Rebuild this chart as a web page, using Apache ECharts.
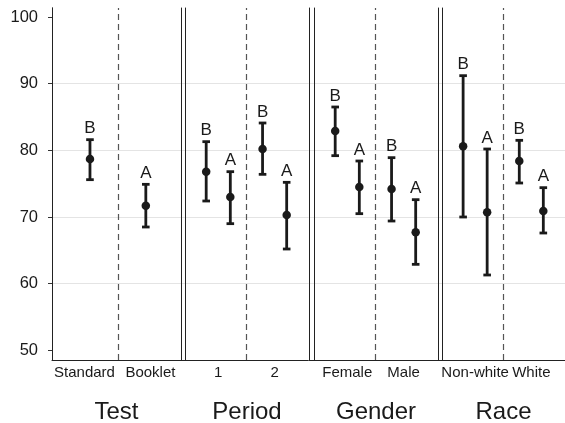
<!DOCTYPE html>
<html><head><meta charset="utf-8">
<script src="https://cdn.jsdelivr.net/npm/echarts@6/dist/echarts.min.js"></script>
<style>html,body{margin:0;padding:0;background:#fff}#c{width:565px;height:423px}</style>
</head><body><div id="c"></div><script>
// ---------- data ----------
const panelTitles = ['Test', 'Period', 'Gender', 'Race'];

const testCats = ['Standard', 'Booklet'];
const testMean = [78.7, 71.7];
const testLow = [75.6, 68.5];
const testHigh = [81.6, 74.9];
const testLetters = ['B', 'A'];

// order: level1-left, level1-right, level2-left, level2-right
const periodCats = ['1', '2'];
const periodMean = [76.8, 73.0, 80.2, 70.3];
const periodLow = [72.4, 69.0, 76.4, 65.2];
const periodHigh = [81.3, 76.8, 84.1, 75.2];
const periodLetters = ['B', 'A', 'B', 'A'];

const genderCats = ['Female', 'Male'];
const genderMean = [82.9, 74.5, 74.2, 67.7];
const genderLow = [79.2, 70.5, 69.4, 62.9];
const genderHigh = [86.5, 78.4, 78.9, 72.6];
const genderLetters = ['B', 'A', 'B', 'A'];

const raceCats = ['Non-white', 'White'];
const raceMean = [80.6, 70.7, 78.4, 70.9];
const raceLow = [70.0, 61.3, 75.1, 67.6];
const raceHigh = [91.2, 80.2, 81.5, 74.4];
const raceLetters = ['B', 'A', 'B', 'A'];

const yTicks = [50, 60, 70, 80, 90, 100];
const gridValues = [60, 70, 80, 90];

// ---------- layout ----------
const FONT = 'Liberation Sans, Arial, Helvetica, sans-serif';
const INK = '#1a1a1a';
const Y_MIN = 48.55, Y_MAX = 101.35;
const TOP = 8, BOTTOM = 63;
const DODGE = 0.214;

const panels = [
  { cats: testCats, mean: testMean, low: testLow, high: testHigh, letters: testLetters, single: true,
    left: 52, width: 129, xmin: 0.32, xmax: 2.63, labelPos: [0.902, 2.082] },
  { cats: periodCats, mean: periodMean, low: periodLow, high: periodHigh, letters: periodLetters,
    left: 185, width: 124, xmin: 0.41, xmax: 2.61, labelPos: [1, 2] },
  { cats: genderCats, mean: genderMean, low: genderLow, high: genderHigh, letters: genderLetters,
    left: 314, width: 124, xmin: 0.41, xmax: 2.61, labelPos: [1, 2] },
  { cats: raceCats, mean: raceMean, low: raceLow, high: raceHigh, letters: raceLetters,
    left: 442, width: 123, xmin: 0.41, xmax: 2.6, labelPos: [1, 2] }
];

function xPositions(p) {
  if (p.single) return p.cats.map((c, i) => i + 1);
  const xs = [];
  p.cats.forEach((c, i) => { xs.push(i + 1 - DODGE); xs.push(i + 1 + DODGE); });
  return xs;
}

const grid = [], xAxis = [], yAxis = [], series = [];

// background full-width grid first: y axis labels, gridlines, bottom axis line
grid.push({ left: 52, right: 0, top: TOP, bottom: BOTTOM, containLabel: false, outerBoundsMode: 'none' });
xAxis.push({
  gridIndex: 0, type: 'value', min: 0, max: 1, z: 0,
  axisLine: { show: true, lineStyle: { color: '#222', width: 1 } },
  axisTick: { show: false }, axisLabel: { show: false }, splitLine: { show: false }
});
yAxis.push({
  gridIndex: 0, type: 'value', min: Y_MIN, max: Y_MAX, position: 'left',
  axisLine: { show: true, lineStyle: { color: '#222', width: 1 } },
  axisTick: { show: true, customValues: yTicks, length: 4, lineStyle: { color: '#333' } },
  axisLabel: { customValues: yTicks, margin: 14, fontSize: 16.5, color: INK, fontFamily: FONT },
  splitLine: { show: false }
});
series.push({
  type: 'scatter', xAxisIndex: 0, yAxisIndex: 0, data: [], z: 0, zlevel: 0,
  markLine: {
    silent: true, symbol: 'none', label: { show: false }, z: 0,
    lineStyle: { color: '#e4e4e4', type: 'solid', width: 1 },
    data: gridValues.map(v => ({ yAxis: v }))
  }
});

panels.forEach((p, j) => {
  const i = j + 1;
  grid.push({ left: p.left, width: p.width, top: TOP, bottom: BOTTOM,
              containLabel: false, outerBoundsMode: 'none' });
  xAxis.push({
    gridIndex: i, type: 'value', min: p.xmin, max: p.xmax,
    axisLine: { show: false }, axisTick: { show: false }, splitLine: { show: false },
    axisLabel: {
      customValues: p.labelPos, margin: 5, fontSize: 15, color: INK, fontFamily: FONT,
      formatter: v => (v < 1.5 ? p.cats[0] : p.cats[1])
    },
    name: panelTitles[j], nameLocation: 'middle', nameGap: 40,
    nameTextStyle: { fontSize: 24, color: INK, fontFamily: FONT }
  });
  const yl = yAxis.length;
  ['left', 'right'].forEach(pos => {
    yAxis.push({
      gridIndex: i, type: 'value', min: Y_MIN, max: Y_MAX, position: pos,
      axisLine: { show: !(j === 3 && pos === 'right'), lineStyle: { color: '#222', width: 1 } },
      axisTick: { show: false }, axisLabel: { show: false }, splitLine: { show: false }
    });
  });
  const xs = xPositions(p);
  const barData = xs.map((x, k) => [x, p.low[k], p.high[k], p.letters[k]]);
  const ptData = xs.map((x, k) => [x, p.mean[k]]);
  series.push({
    type: 'custom', xAxisIndex: i, yAxisIndex: yl, z: 6,
    data: barData,
    renderItem: (params, api) => {
      const x = api.value(0);
      const lo = api.coord([x, api.value(1)]);
      const hi = api.coord([x, api.value(2)]);
      const cw = 3.8;
      const st = { stroke: INK, lineWidth: 2.8 };
      return {
        type: 'group', children: [
          { type: 'line', shape: { x1: lo[0], y1: lo[1], x2: hi[0], y2: hi[1] }, style: st },
          { type: 'line', shape: { x1: lo[0] - cw, y1: lo[1], x2: lo[0] + cw, y2: lo[1] }, style: st },
          { type: 'line', shape: { x1: hi[0] - cw, y1: hi[1], x2: hi[0] + cw, y2: hi[1] }, style: st },
          { type: 'text', style: { text: barData[params.dataIndex][3], x: hi[0], y: hi[1] - 11,
              align: 'center', verticalAlign: 'middle', fill: INK, font: '17px ' + FONT } }
        ]
      };
    },
    markLine: {
      silent: true, symbol: 'none', label: { show: false }, z: 2,
      lineStyle: { color: '#555', type: [6, 4], width: 1.2 },
      data: [{ xAxis: 1.5 }]
    }
  });
  series.push({
    type: 'scatter', xAxisIndex: i, yAxisIndex: yl, z: 7,
    symbol: 'circle', symbolSize: 8.5, itemStyle: { color: INK, opacity: 1 },
    data: ptData
  });
});

const chart = echarts.init(document.getElementById('c'), null, { renderer: 'canvas' });
chart.setOption({ animation: false, grid, xAxis, yAxis, series });
</script></body></html>
